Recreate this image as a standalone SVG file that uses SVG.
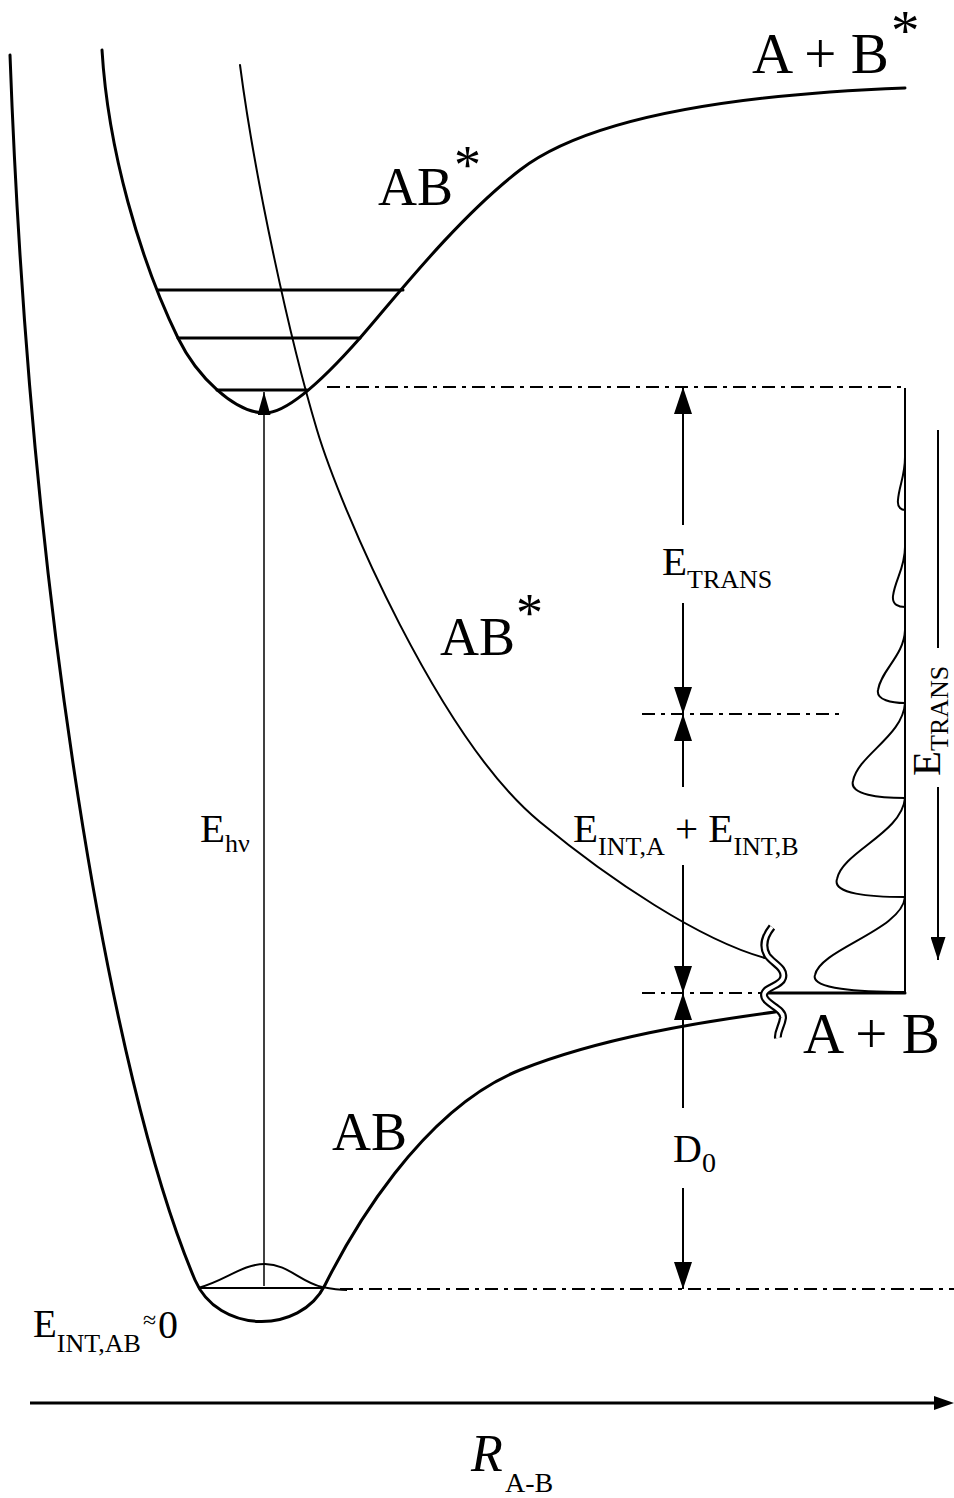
<svg xmlns="http://www.w3.org/2000/svg" width="954" height="1498" viewBox="0 0 954 1498">
<style>
.c{fill:none;stroke:#000;stroke-width:3;stroke-linecap:round}
.r{fill:none;stroke:#000;stroke-width:2;stroke-linecap:round}
.th{fill:none;stroke:#000;stroke-width:2}
.dd{fill:none;stroke:#000;stroke-width:2;stroke-dasharray:13 6 4 6}
.a{stroke:#000;stroke-width:2;fill:none;marker-end:url(#ah)}
.am{stroke:#000;stroke-width:2;fill:none;marker-end:url(#ahm)}
.as{stroke:#000;stroke-width:1.5;fill:none;marker-end:url(#ahs)}
text{font-family:"Liberation Serif","Times New Roman",serif;fill:#000}
.big{font-size:57px}
.lab{font-size:54px}
.m{font-size:41px}
.s{font-size:26px}
</style>
<defs>
<marker id="ah" viewBox="0 0 27 18" refX="27" refY="9" markerWidth="27" markerHeight="18" markerUnits="userSpaceOnUse" orient="auto"><path d="M0,0L27,9L0,18z"/></marker>
<marker id="ahm" viewBox="0 0 23 15" refX="23" refY="7.5" markerWidth="23" markerHeight="15" markerUnits="userSpaceOnUse" orient="auto"><path d="M0,0L23,7.5L0,15z"/></marker>
<marker id="ahs" viewBox="0 0 23 13" refX="23" refY="6.5" markerWidth="23" markerHeight="13" markerUnits="userSpaceOnUse" orient="auto"><path d="M0,0L23,6.5L0,13z"/></marker>
</defs>

<g id="ground-state-AB">
<path class="c" d="M10,55 C30,600 110,1080 195,1280 C218,1334 300,1335 325,1285 C350,1235 420,1110 520,1070 C600,1038 700,1022 775,1012"/>
<path class="th" d="M198,1288 H322"/>
<path class="th" d="M198,1288 C225,1281 242,1264 265,1264 C288,1264 300,1282 322,1287 C332,1289 340,1290 347,1290"/>
<text class="lab" x="332" y="1150">AB</text>
</g>

<g id="excited-bound-ABstar">
<path class="c" d="M102,50 C108,150 140,260 178,338 C197,377 235,413 265,413 C290,413 330,372 360,338 C390,304 455,220 520,170 C585,120 720,95 905,88"/>
<path class="c" d="M158,290 H403 M178,338 H360 M217,390 H307"/>
<text class="lab" x="378" y="205">AB</text>
<text class="lab" x="454" y="183">*</text>
<text class="big" x="752" y="73">A + B</text>
<text class="big" x="891" y="50">*</text>
</g>

<g id="excited-repulsive-ABstar">
<path class="r" d="M240,65 C255,180 290,340 317,430 C340,507 440,740 540,822 C610,880 700,940 765,958"/>
<text class="lab" x="440" y="655">AB</text>
<text class="lab" x="516" y="631">*</text>
</g>

<g id="dissociation-A-B">
<path class="c" d="M765,993 H905"/>
<text class="big" x="803" y="1053">A + B</text>
</g>

<g id="distribution">
<path class="th" d="M905,388 V993"/>
<path class="th" d="M905,457 C905,476 899,486 898,500 C897,508 902,510 905,510 M905,547 C905,568 895,580 893,596 C892,605 899,607 905,607 M905,630 C904,656 881,670 878,690 C876,700 892,703 905,703 M905,703 C903,736 858,755 853,781 C849,795 880,798 905,798 M905,798 C902,833 842,852 837,879 C832,894 870,897 905,897 M905,897 C902,930 820,949 815,975 C810,989 860,992 905,992"/>
</g>

<g id="axis-break">
<path d="M772,927 C764,937 762,946 767,955 C772,963 786,968 783,978 C781,986 764,987 764,995 C764,1004 784,1008 783,1018 C782,1026 777,1032 778,1038" fill="none" stroke="#000" stroke-width="8"/>
<path d="M772,927 C764,937 762,946 767,955 C772,963 786,968 783,978 C781,986 764,987 764,995 C764,1004 784,1008 783,1018 C782,1026 777,1032 778,1038" fill="none" stroke="#fff" stroke-width="3.6"/>
</g>

<g id="connectors">
<path class="dd" d="M327,387 H905"/>
<path class="dd" d="M642,714 H842"/>
<path class="dd" d="M642,993 H762"/>
<path class="dd" d="M340,1289 H954"/>
<path class="as" d="M264,1286 V392"/>
<path class="a" d="M683,525 V387"/>
<path class="a" d="M683,603 V714"/>
<path class="a" d="M683,787 V714"/>
<path class="a" d="M683,865 V993"/>
<path class="a" d="M683,1108 V993"/>
<path class="a" d="M683,1188 V1289"/>
<path class="th" d="M938,430 V648"/>
<path class="am" d="M938,787 V960"/>
<path d="M30,1403 H940" stroke="#000" stroke-width="3"/>
<path d="M934,1396 L954,1403 L934,1410 z" fill="#000"/>
</g>

<g id="labels">
<text class="m" x="662" y="575">E<tspan class="s" dy="13">TRANS</tspan></text>
<text class="m" transform="translate(940,776) rotate(-90)">E<tspan class="s" dy="8">TRANS</tspan></text>
<text class="m" x="200" y="842">E<tspan class="s" dy="10">hν</tspan></text>
<text class="m" x="573" y="842">E<tspan class="s" dy="13">INT,A</tspan><tspan dy="-13"> + E</tspan><tspan class="s" dy="13">INT,B</tspan></text>
<text x="673" y="1162" font-size="40">D<tspan font-size="28" dy="10">0</tspan></text>
<text x="33" y="1337" font-size="39">E<tspan class="s" dy="15">INT,AB</tspan></text>
<text x="143" y="1328" font-size="24">≈</text>
<text x="158" y="1338" font-size="40">0</text>
<text x="471" y="1471" font-size="52" font-style="italic">R</text>
<text x="505" y="1492" font-size="28">A-B</text>
</g>
</svg>
